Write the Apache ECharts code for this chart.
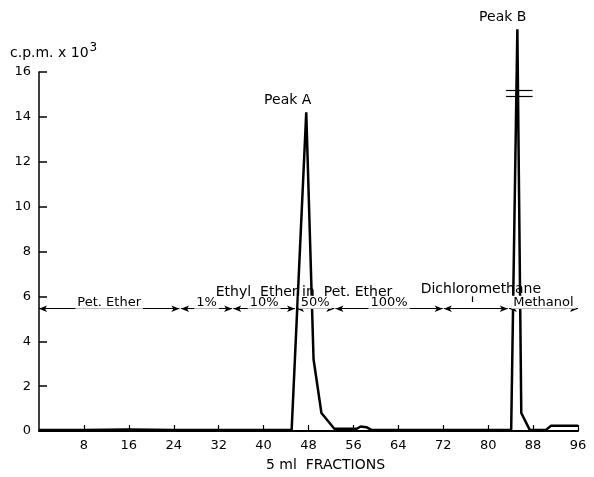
<!DOCTYPE html>
<html>
<head>
<meta charset="utf-8">
<script src="https://cdn.jsdelivr.net/npm/echarts@6/dist/echarts.min.js"></script>
<style>
  html, body { margin: 0; background: #fff; }
  #chart { width: 594px; height: 477px; }
</style>
</head>
<body>
<div id="chart"></div>
<script>
// fraction number (5 ml each) and radioactivity, c.p.m. x 10^3
var fractions = [0, 8, 16, 24, 32, 40, 45.0, 47.6, 48.9, 50.3, 52.6, 56.6, 57.3, 58.3, 59.2, 64, 72, 80, 84.1, 85.2, 85.9, 87.4, 90.3, 91.2, 96];
var cpm = [0.05, 0.05, 0.07, 0.05, 0.05, 0.05, 0.05, 14.2, 3.2, 0.8, 0.1, 0.1, 0.2, 0.17, 0.05, 0.05, 0.05, 0.05, 0.05, 17.9, 0.8, 0.05, 0.05, 0.23, 0.23];

// solvent steps, drawn as arrows across the plot
var stepFrom = [0, 25.3, 34.6, 45.8, 52.8, 72.1, 83.7];
var stepTo = [25.0, 34.4, 45.6, 52.6, 71.9, 83.5, 96];
var stepLabels = ['Pet. Ether', '1%', '10%', '50%', '100%', '', 'Methanol'];
var stepLevel = 5.45;

// text notes: [fraction, value, text, yOffset]
var notes = [
    [47.2, 6.2, 'Ethyl  Ether in  Pet. Ether', 0],
    [78.7, 6.3, 'Dichloromethane', 0],
    [44.3, 14.72, 'Peak A', 0],
    [82.6, 16, 'Peak B', -55]
];

var FONT = 'DejaVu Sans';
var chart = echarts.init(document.getElementById('chart'));

var pts = fractions.map(function (f, i) { return [f, cpm[i]]; });

var lines = [];
for (var i = 0; i < stepFrom.length; i++) {
    lines.push([
        { coord: [stepFrom[i], stepLevel] },
        {
            coord: [stepTo[i], stepLevel],
            label: { show: stepLabels[i] !== '', formatter: stepLabels[i] }
        }
    ]);
}
// small mark under "Dichloromethane"
lines.push([
    { coord: [77.1, 5.75], symbol: 'none' },
    { coord: [77.1, 6.0], symbol: 'none' }
]);
// axis break on peak B
lines.push([{ coord: [83.2, 15.2], symbol: 'none' }, { coord: [87.9, 15.2], symbol: 'none' }]);
lines.push([{ coord: [83.2, 14.9], symbol: 'none' }, { coord: [87.9, 14.9], symbol: 'none' }]);

var option = {
    animation: false,
    backgroundColor: '#fff',
    title: {
        text: 'c.p.m. x 10{sup|3}',
        left: 5,
        top: 37,
        textStyle: {
            fontFamily: FONT,
            fontSize: 14,
            fontWeight: 'normal',
            color: '#000',
            rich: {
                sup: { fontFamily: FONT, fontSize: 12, color: '#000', verticalAlign: 'top', padding: [0, 0, 10, 1] }
            }
        }
    },
    grid: { left: 39, right: 16, top: 72, bottom: 44 },
    xAxis: {
        type: 'value',
        min: 0,
        max: 96,
        interval: 8,
        name: '5 ml  FRACTIONS',
        nameLocation: 'middle',
        nameGap: 27,
        nameTextStyle: { fontFamily: FONT, fontSize: 14, color: '#000', padding: [0, 0, 0, 34] },
        axisLine: { lineStyle: { color: '#000', width: 2 } },
        axisTick: { inside: true, length: 6, lineStyle: { color: '#000', width: 1.2 } },
        axisLabel: {
            showMinLabel: false,
            margin: 8,
            color: '#000',
            fontFamily: FONT,
            fontSize: 13
        },
        splitLine: { show: false }
    },
    yAxis: {
        type: 'value',
        min: 0,
        max: 16,
        interval: 2,
        axisLine: { show: true, lineStyle: { color: '#000', width: 1.5 } },
        axisTick: { show: true, inside: true, length: 8, lineStyle: { color: '#000', width: 1.5 } },
        axisLabel: { margin: 8, color: '#000', fontFamily: FONT, fontSize: 13 },
        splitLine: { show: false }
    },
    series: [{
        type: 'line',
        data: pts,
        clip: false,
        symbol: 'none',
        lineStyle: { color: '#000', width: 2.5 },
        markLine: {
            silent: true,
            symbol: ['arrow', 'arrow'],
            symbolSize: [5, 8],
            precision: 2,
            lineStyle: { type: 'solid', color: '#000', width: 1.2 },
            label: {
                show: false,
                position: 'middle',
                distance: 0,
                backgroundColor: '#fff',
                padding: [0, 2],
                color: '#000',
                fontFamily: FONT,
                fontSize: 13
            },
            data: lines
        },
        markPoint: {
            silent: true,
            symbol: 'circle',
            symbolSize: 0,
            label: {
                show: true,
                position: 'inside',
                color: '#000',
                fontFamily: FONT,
                fontSize: 14
            },
            data: notes.map(function (n) {
                return {
                    coord: [n[0], n[1]],
                    value: n[2],
                    label: { formatter: n[2], offset: [0, n[3]] }
                };
            })
        }
    }]
};

chart.setOption(option);
</script>
</body>
</html>
